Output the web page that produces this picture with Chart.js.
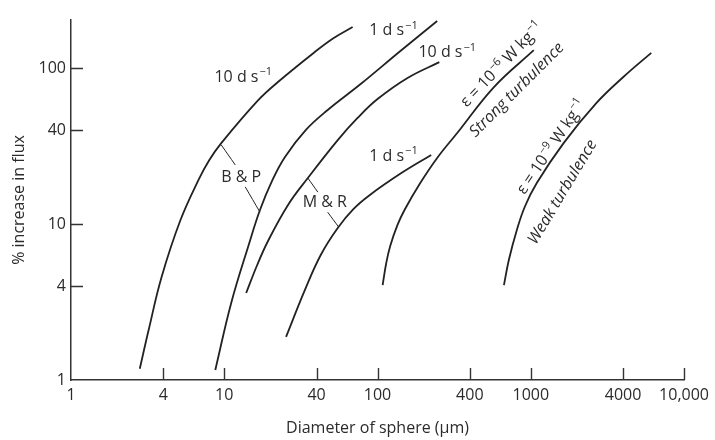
<!DOCTYPE html>
<html>
<head>
<meta charset="utf-8">
<title>% increase in flux vs diameter of sphere</title>
<script src="https://cdn.jsdelivr.net/npm/chart.js@4.4.0/dist/chart.umd.min.js"></script>
<style>
  html, body { margin: 0; padding: 0; background: #fff; }
  #wrap { width: 715px; height: 440px; }
</style>
</head>
<body>
<div id="wrap"><canvas id="flux-chart" width="715" height="440"></canvas></div>
<script>
const xTicks = [1, 4, 10, 40, 100, 400, 1000, 4000, 10000];
const yTicks = [1, 4, 10, 40, 100];

// B & P curves
const bp10Diam = [2.81, 3.21, 3.9, 5.18, 6.78, 7.99, 9.56, 16.6, 22.4, 39, 51.8, 68.8];
const bp10Flux = [1.18, 2.09, 4.57, 10.6, 19.1, 25.7, 33, 62, 81.3, 126.7, 155.6, 183];
const bp1Diam = [8.74, 11.1, 14.5, 17.1, 20.5, 24.9, 34.1, 47.3, 77.6, 141, 245];
const bp1Flux = [1.16, 3.12, 7.45, 12.3, 18.9, 26.9, 40.1, 53.8, 78.9, 128.5, 200];

// M & R curves
const mr10Diam = [13.9, 16.4, 19.3, 26.0, 35.1, 55, 74.1, 100, 157, 253];
const mr10Flux = [3.61, 5.46, 7.78, 13.2, 19.7, 34.5, 47.8, 63.2, 86.3, 109];
const mr1Diam = [25.3, 33.6, 42.6, 55, 69.8, 88.7, 143, 224];
const mr1Flux = [1.89, 3.78, 6.33, 9.43, 12.5, 15.3, 21.2, 27.7];

// turbulence curves
const strongDiam = [108, 114, 121, 135, 150, 190, 245, 331, 575, 1046];
const strongFlux = [4.06, 5.62, 7.23, 9.86, 12.3, 18.3, 26.5, 38.3, 75.5, 130];
const weakDiam = [668, 719, 811, 914, 1094, 1637, 2684, 4015, 6109];
const weakFlux = [4.06, 5.88, 9.15, 12.9, 18.3, 33, 59.7, 87.5, 125];

// leader lines from the B & P / M & R labels
const bpLeadUpDiam = [9.56, 11.8];
const bpLeadUpFlux = [32.1, 23.9];
const bpLeadDownDiam = [13.7, 17.1];
const bpLeadDownFlux = [17.3, 11.9];
const mrLeadUpDiam = [35.1, 40.8];
const mrLeadUpFlux = [19.7, 16.0];
const mrLeadDownDiam = [47.3, 55.8];
const mrLeadDownFlux = [11.9, 9.56];

const curveLabels = [
  { text: "10 d s^−1", x: 13.3, y: 87.5, rot: 0 },
  { text: "1 d s^−1", x: 127, y: 173, rot: 0 },
  { text: "10 d s^−1", x: 285, y: 125, rot: 0 },
  { text: "1 d s^−1", x: 127, y: 27.3, rot: 0 },
  { text: "B & P", x: 12.9, y: 20.0, rot: 0 },
  { text: "M & R", x: 45.3, y: 13.8, rot: 0 },
  { text: "ε = 10^−6 W kg^−1", x: 648, y: 105, rot: -46 },
  { text: "Strong turbulence", x: 811, y: 72.3, rot: -45, italic: true },
  { text: "ε = 10^−9 W kg^−1", x: 1368, y: 31.2, rot: -56 },
  { text: "Weak turbulence", x: 1614, y: 16.0, rot: -59, italic: true },
];

const inkColor = "#222";
const textColor = "#2b2b2b";
const fontFamily = '"Open Sans", "DejaVu Sans", sans-serif';

function toPoints(xs, ys) {
  return xs.map((x, i) => ({ x: x, y: ys[i] }));
}

function curve(xs, ys, width) {
  return {
    data: toPoints(xs, ys),
    borderColor: inkColor,
    borderWidth: width,
    pointRadius: 0,
    fill: false,
    tension: 0.4,
  };
}

// split "10 d s^−1" into normal / superscript pieces
function splitSup(text) {
  const parts = [];
  const re = /\^([−\-\d]+)/g;
  let last = 0;
  let m;
  while ((m = re.exec(text)) !== null) {
    if (m.index > last) parts.push({ t: text.slice(last, m.index), sup: false });
    parts.push({ t: m[1], sup: true });
    last = m.index + m[0].length;
  }
  if (last < text.length) parts.push({ t: text.slice(last), sup: false });
  return parts;
}

const labelPlugin = {
  id: "curveLabels",
  afterDatasetsDraw(chart) {
    const { ctx, scales } = chart;
    ctx.save();
    ctx.fillStyle = textColor;
    ctx.textBaseline = "middle";
    ctx.textAlign = "left";
    curveLabels.forEach((lab) => {
      const px = scales.x.getPixelForValue(lab.x);
      const py = scales.y.getPixelForValue(lab.y);
      const style = lab.italic ? "italic " : "";
      const baseFont = style + "16px " + fontFamily;
      const supFont = style + "11px " + fontFamily;
      const parts = splitSup(lab.text);
      let total = 0;
      parts.forEach((p) => {
        ctx.font = p.sup ? supFont : baseFont;
        total += ctx.measureText(p.t).width + (p.sup ? 1 : 0);
      });
      ctx.save();
      ctx.translate(px, py);
      ctx.rotate((lab.rot * Math.PI) / 180);
      let cx = -total / 2;
      parts.forEach((p) => {
        ctx.font = p.sup ? supFont : baseFont;
        if (p.sup) cx += 1;
        ctx.fillText(p.t, cx, p.sup ? -5 : 0);
        cx += ctx.measureText(p.t).width;
      });
      ctx.restore();
    });
    ctx.restore();
  },
};

// tick marks pointing into the plot, as in the printed figure
const inwardTicks = {
  id: "inwardTicks",
  afterDraw(chart) {
    const { ctx, chartArea, scales } = chart;
    ctx.save();
    ctx.strokeStyle = "#333";
    ctx.lineWidth = 1.4;
    ctx.beginPath();
    xTicks.slice(1).forEach((v) => {
      const px = Math.round(scales.x.getPixelForValue(v)) + 0.5;
      ctx.moveTo(px, chartArea.bottom);
      ctx.lineTo(px, chartArea.bottom - 12);
    });
    yTicks.slice(1).forEach((v) => {
      const py = Math.round(scales.y.getPixelForValue(v)) + 0.5;
      ctx.moveTo(chartArea.left, py);
      ctx.lineTo(chartArea.left + 12, py);
    });
    ctx.stroke();
    ctx.restore();
  },
};

const ctx = document.getElementById("flux-chart").getContext("2d");
new Chart(ctx, {
  type: "line",
  data: {
    datasets: [
      curve(bp10Diam, bp10Flux, 1.8),
      curve(bp1Diam, bp1Flux, 1.8),
      curve(mr10Diam, mr10Flux, 1.8),
      curve(mr1Diam, mr1Flux, 1.8),
      curve(strongDiam, strongFlux, 1.8),
      curve(weakDiam, weakFlux, 1.8),
      curve(bpLeadUpDiam, bpLeadUpFlux, 1),
      curve(bpLeadDownDiam, bpLeadDownFlux, 1),
      curve(mrLeadUpDiam, mrLeadUpFlux, 1),
      curve(mrLeadDownDiam, mrLeadDownFlux, 1),
    ],
  },
  options: {
    responsive: false,
    animation: false,
    layout: {
      padding: { top: 20, right: 27, left: 0, bottom: 0 },
    },
    plugins: {
      legend: { display: false },
      tooltip: { enabled: false },
    },
    scales: {
      x: {
        type: "logarithmic",
        min: 1,
        max: 10000,
        afterFit: (scale) => {
          scale.height = 60;
        },
        afterBuildTicks: (scale) => {
          scale.ticks = xTicks.map((v) => ({ value: v }));
        },
        grid: { display: false, drawTicks: false },
        border: { display: true, color: "#333", width: 1.5 },
        ticks: {
          autoSkip: false,
          maxRotation: 0,
          padding: 6,
          color: textColor,
          font: { family: fontFamily, size: 16 },
          callback: (v) => (v >= 10000 ? v.toLocaleString("en-US") : String(v)),
        },
        title: {
          display: true,
          text: "Diameter of sphere (μm)",
          color: textColor,
          font: { family: fontFamily, size: 16 },
          padding: { top: 0, bottom: 2 },
        },
      },
      y: {
        type: "logarithmic",
        min: 1,
        max: 203,
        afterFit: (scale) => {
          scale.width = 71;
        },
        afterBuildTicks: (scale) => {
          scale.ticks = yTicks.map((v) => ({ value: v }));
        },
        grid: { display: false, drawTicks: false },
        border: { display: true, color: "#333", width: 1.5 },
        ticks: {
          autoSkip: false,
          padding: 5,
          color: textColor,
          font: { family: fontFamily, size: 16 },
          callback: (v) => String(v),
        },
        title: {
          display: true,
          text: "% increase in flux",
          color: textColor,
          font: { family: fontFamily, size: 16 },
          padding: { top: 10, bottom: 0 },
        },
      },
    },
  },
  plugins: [labelPlugin, inwardTicks],
});
</script>
</body>
</html>
